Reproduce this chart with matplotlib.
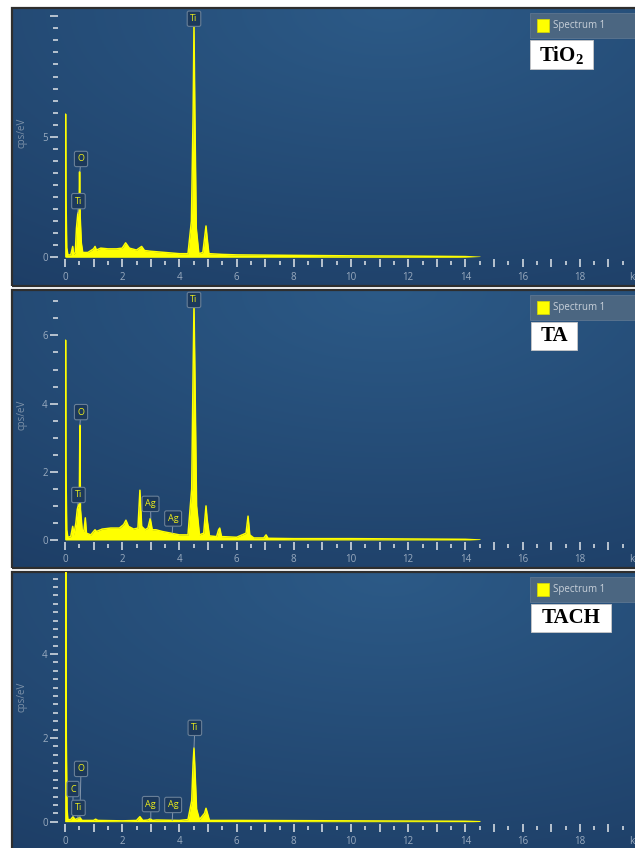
import numpy as np
import matplotlib.pyplot as plt
from matplotlib.patches import Rectangle
from matplotlib.ticker import MultipleLocator, FixedLocator, FuncFormatter

plt.rcParams['font.family'] = ['Open Sans', 'DejaVu Sans']
plt.rcParams['mathtext.fontset'] = 'custom'
plt.rcParams['mathtext.rm'] = 'Liberation Serif:bold'
plt.rcParams['mathtext.it'] = 'Liberation Serif:bold'

# ---- spectra (keV, cps/eV) ----
tio2_kev = [0.0, 0.01, 0.02, 0.035, 0.06, 0.10, 0.20, 0.27, 0.30, 0.36, 0.40, 0.45, 0.49,
            0.51, 0.53, 0.57, 0.62, 0.80, 1.00, 1.05, 1.10, 1.25, 1.50, 1.80, 2.00, 2.12,
            2.25, 2.50, 2.68, 2.78, 3.00, 3.50, 4.00, 4.30, 4.42, 4.48, 4.51, 4.54, 4.59,
            4.68, 4.82, 4.88, 4.93, 4.97, 5.03, 5.50, 6.0, 8.0, 10.0, 12.0, 14.0, 14.5]
tio2_cps = [0.0, 3.0, 5.94, 2.5, 0.4, 0.1, 0.1, 0.45, 0.12, 0.2, 1.2, 1.83, 1.9,
            3.55, 1.7, 0.6, 0.2, 0.2, 0.35, 0.45, 0.3, 0.38, 0.35, 0.35, 0.38, 0.6,
            0.38, 0.3, 0.45, 0.28, 0.25, 0.2, 0.15, 0.15, 1.5, 6.0, 9.6, 6.0, 1.2,
            0.15, 0.2, 0.8, 1.3, 0.8, 0.15, 0.12, 0.1, 0.08, 0.06, 0.05, 0.03, 0.0]

ta_kev = [0.0, 0.01, 0.02, 0.035, 0.06, 0.10, 0.20, 0.27, 0.31, 0.38, 0.43, 0.47, 0.50,
          0.52, 0.54, 0.60, 0.66, 0.71, 0.75, 0.90, 1.05, 1.10, 1.30, 1.60, 1.90, 2.05,
          2.13, 2.22, 2.40, 2.55, 2.62, 2.68, 2.80, 2.90, 2.98, 3.05, 3.18, 3.40, 3.70,
          4.00, 4.30, 4.43, 4.48, 4.51, 4.54, 4.60, 4.70, 4.85, 4.90, 4.93, 4.97, 5.05,
          5.30, 5.37, 5.41, 5.47, 6.00, 6.33, 6.40, 6.46, 6.60, 6.95, 7.03, 7.10, 8.0,
          10.0, 12.0, 14.0, 14.5]
ta_cps = [0.0, 3.0, 5.86, 2.0, 0.3, 0.08, 0.1, 0.4, 0.15, 0.5, 0.9, 1.03, 1.0,
          3.37, 0.9, 0.3, 0.25, 0.65, 0.2, 0.15, 0.3, 0.25, 0.32, 0.35, 0.35, 0.45,
          0.58, 0.4, 0.32, 0.35, 1.46, 0.4, 0.3, 0.35, 0.63, 0.3, 0.3, 0.25, 0.2,
          0.15, 0.15, 1.5, 5.0, 6.9, 5.0, 1.0, 0.15, 0.2, 0.7, 1.0, 0.6, 0.12,
          0.1, 0.3, 0.35, 0.1, 0.08, 0.2, 0.7, 0.15, 0.06, 0.06, 0.15, 0.05, 0.04,
          0.04, 0.03, 0.02, 0.0]

tach_kev = [0.0, 0.01, 0.02, 0.03, 0.045, 0.07, 0.10, 0.20, 0.28, 0.35, 0.45, 0.52, 0.60,
            1.00, 1.07, 1.15, 2.00, 2.50, 2.62, 2.72, 2.90, 2.98, 3.06, 3.20, 4.00, 4.30,
            4.43, 4.48, 4.51, 4.54, 4.60, 4.70, 4.88, 4.93, 4.98, 5.05, 6.0, 10.0, 14.0, 14.5]
tach_cps = [0.0, 3.0, 6.2, 6.2, 2.0, 0.3, 0.05, 0.05, 0.12, 0.05, 0.08, 0.1, 0.03,
            0.03, 0.06, 0.03, 0.02, 0.03, 0.12, 0.03, 0.04, 0.07, 0.03, 0.04, 0.03, 0.05,
            0.5, 1.4, 1.76, 1.3, 0.3, 0.05, 0.2, 0.32, 0.2, 0.03, 0.03, 0.02, 0.01, 0.0]

# peak labels: element, line energy, peak top
tio2_names = ["Ti", "O", "Ti"]
tio2_lines = [4.51, 0.52, 0.45]
tio2_tops = [9.6, 3.55, 1.83]

ta_names = ["Ti", "O", "Ti", "Ag", "Ag"]
ta_lines = [4.51, 0.52, 0.45, 3.0, 3.75]
ta_tops = [6.9, 3.37, 1.03, 0.63, 0.2]

tach_names = ["Ti", "O", "C", "Ti", "Ag", "Ag"]
tach_lines = [4.51, 0.52, 0.28, 0.45, 3.0, 3.75]
tach_tops = [1.76, 0.1, 0.12, 0.08, 0.07, 0.03]

samples = ["TiO$_2$", "TA", "TACH"]

# ---- layout (pixels of the 635x848 picture) ----
W, H = 635, 848
PX_KEV = 28.6
panels = [
    dict(kev=tio2_kev, cps=tio2_cps, names=tio2_names, lines=tio2_lines, tops=tio2_tops,
         top=8, bot=286, base=257.3, ppu=24.1, major=[0, 5, 10], labels=['0', '5', ''],
         minor=0.5, lab_xy=[(4.51, 9.9), (0.56, 4.08), (0.47, 2.33)],
         tag_box=(530, 40, 63, 29)),
    dict(kev=ta_kev, cps=ta_cps, names=ta_names, lines=ta_lines, tops=ta_tops,
         top=290, bot=568, base=540, ppu=34.1, major=[0, 2, 4, 6], labels=['0', '2', '4', '6'],
         minor=0.5, lab_xy=[(4.51, 7.04), (0.56, 3.75), (0.47, 1.32), (2.99, 1.06), (3.78, 0.63)],
         tag_box=(531, 322, 46, 28)),
    dict(kev=tach_kev, cps=tach_cps, names=tach_names, lines=tach_lines, tops=tach_tops,
         top=572, bot=852, base=821.7, ppu=41.9, major=[0, 2, 4], labels=['0', '2', '4'],
         minor=0.2, lab_xy=[(4.54, 2.24), (0.56, 1.26), (0.28, 0.78), (0.47, 0.33),
                            (3.0, 0.42), (3.78, 0.40)],
         tag_box=(531, 604, 80, 28)),
]

fig = plt.figure(figsize=(W / 100, H / 100), dpi=100)


def fx(px):
    return px / W


def fy(py):
    return 1 - py / H


# background gradient of the software panels
yy, xx = np.mgrid[0:1:200j, 0:1:300j]
dist = np.clip(np.sqrt(((xx - 0.6) * 1.1) ** 2 + (yy * 1.0) ** 2) / 1.25, 0, 1)
light = np.array([44, 90, 135]) / 255
dark = np.array([29, 61, 101]) / 255
grad = light * (1 - dist)[..., None] + dark * dist[..., None]

tick_col = '#b8c3cf'
lab_col = '#9aabbf'

for i, p in enumerate(panels):
    bg = fig.add_axes([fx(12), fy(p['bot']), fx(640 - 12), (p['bot'] - p['top']) / H])
    bg.imshow(grad, extent=[0, 1, 0, 1], aspect='auto')
    bg.set_xlim(0, 1)
    bg.set_ylim(0, 1)
    bg.axis('off')
    bg.add_patch(Rectangle((0, 0), 1, 1, transform=bg.transAxes, fill=False,
                           ec='#2e2e2e', lw=1.6, clip_on=False))

    ymax = (p['base'] - p['top']) / p['ppu']
    ax = fig.add_axes([fx(65), fy(p['base']), fx(20 * PX_KEV), (p['base'] - p['top']) / H])
    ax.patch.set_alpha(0)
    ax.set_xlim(0, 20)
    ax.set_ylim(0, ymax)
    for s in ax.spines.values():
        s.set_visible(False)
    ax.spines['left'].set_position(('outward', 4.7))
    ax.spines['bottom'].set_position(('outward', 4.3))

    ax.fill_between(p['kev'], p['cps'], 0, color='#ffff00', lw=0)
    ax.plot(p['kev'], p['cps'], color='#ffff00', lw=1.1)

    ax.xaxis.set_major_locator(MultipleLocator(1))
    ax.xaxis.set_minor_locator(MultipleLocator(0.5))
    ax.xaxis.set_major_formatter(FuncFormatter(
        lambda v, pos: 'keV' if round(v) == 20 else (f'{int(round(v))}' if round(v) % 2 == 0 else '')))
    ax.yaxis.set_major_locator(FixedLocator(p['major']))
    ax.yaxis.set_major_formatter(FuncFormatter(
        lambda v, pos, labs=p['labels'], maj=p['major']: labs[maj.index(int(round(v)))]
        if int(round(v)) in maj else ''))
    ax.yaxis.set_minor_locator(MultipleLocator(p['minor']))

    ax.tick_params(axis='x', which='major', direction='inout', length=6, width=1.4,
                   color=tick_col, labelcolor=lab_col, labelsize=7, pad=3)
    ax.tick_params(axis='x', which='minor', direction='inout', length=2.6, width=1.4,
                   color=tick_col)
    ax.tick_params(axis='y', which='major', direction='out', length=5.8, width=1.4,
                   color=tick_col, labelcolor=lab_col, labelsize=7, pad=2)
    ax.tick_params(axis='y', which='minor', direction='out', length=3.4, width=1.4,
                   color=tick_col)

    for name, e, top, (lx, ly) in zip(p['names'], p['lines'], p['tops'], p['lab_xy']):
        ax.annotate(name, xy=(e, top), xytext=(lx, ly), ha='center', va='center',
                    fontsize=6.5, color='#eded1a', annotation_clip=False,
                    bbox=dict(boxstyle='round,pad=0.35,rounding_size=0.2', fc='#1c395c',
                              ec='#697f97', lw=0.8),
                    arrowprops=dict(arrowstyle='-', color='#8496ab', lw=0.7,
                                    shrinkA=0, shrinkB=0))

    # axis title
    fig.text(fx(22), fy(p['top'] + 125), 'cps/eV', rotation=90, ha='center', va='center',
             color='#7d91a8', fontsize=7)

    # legend strip
    fig.add_artist(Rectangle((fx(530), fy(p['top'] + 30)), fx(110), 25 / H,
                             transform=fig.transFigure, fc='#4b6681', ec='#5d7690', lw=0.6))
    fig.add_artist(Rectangle((fx(537), fy(p['top'] + 24)), fx(12), 13 / H,
                             transform=fig.transFigure, fc='#ffff00', ec='#d8d800', lw=0.5))
    fig.text(fx(553), fy(p['top'] + 17.5), 'Spectrum 1', ha='left', va='center',
             color='#c9d1da', fontsize=7)

    # sample tag
    bx, by, bw, bh = p['tag_box']
    fig.add_artist(Rectangle((fx(bx), fy(by + bh)), fx(bw), bh / H,
                             transform=fig.transFigure, fc='white', ec='#c8c8c8', lw=0.6))
    fig.text(fx(bx + bw / 2), fy(by + bh / 2), samples[i], ha='center', va='center',
             color='black', fontsize=15, fontweight='bold', family='Liberation Serif')

fig.savefig('out.png', dpi=100)
